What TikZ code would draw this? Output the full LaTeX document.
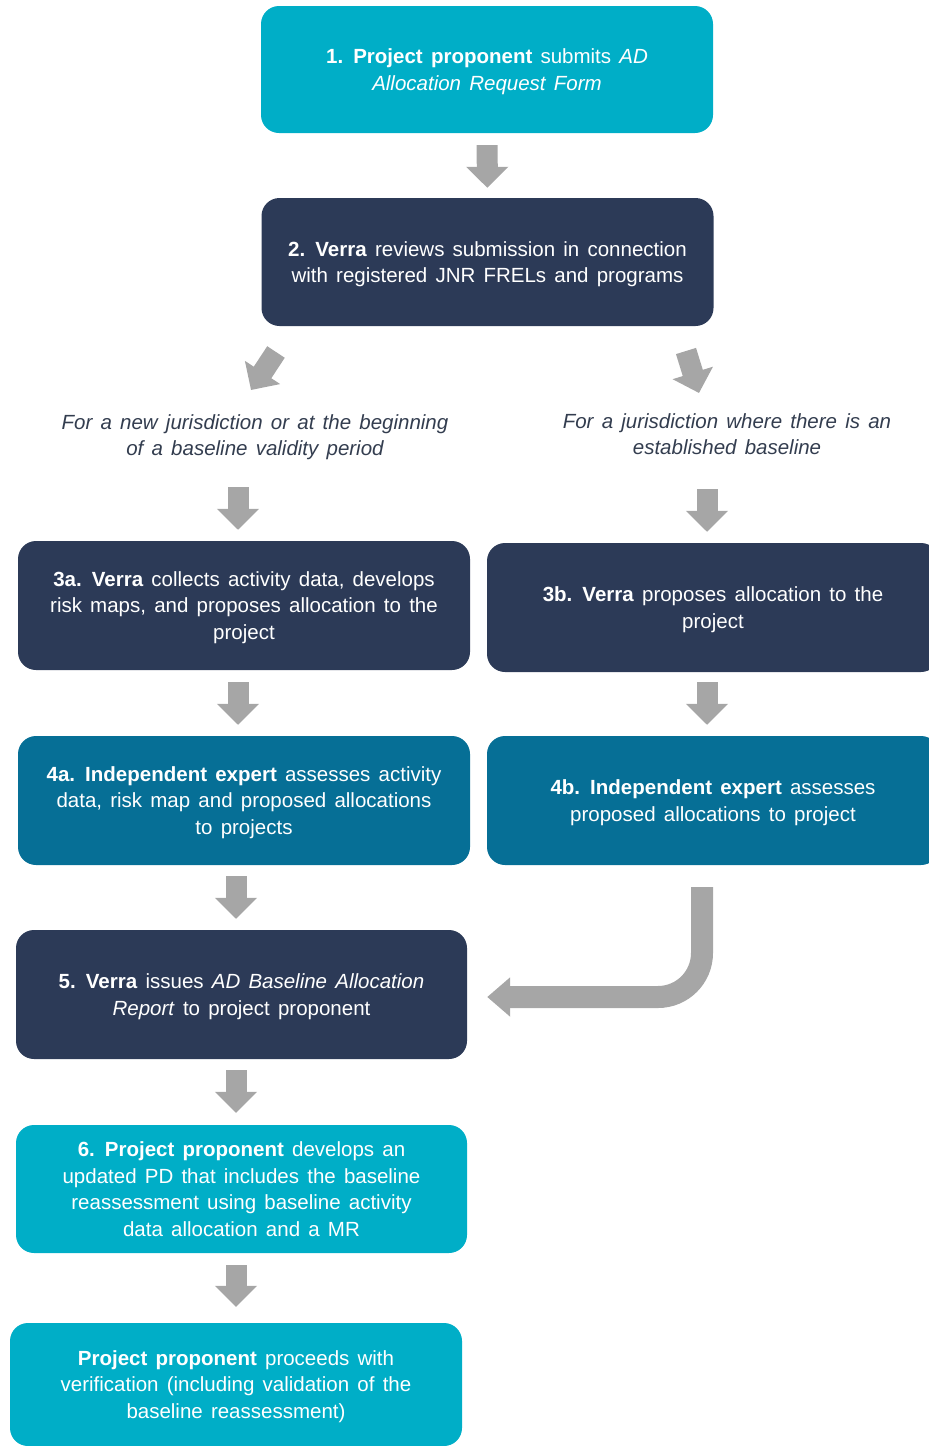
\documentclass[tikz,border=0pt]{standalone}
\usepackage{fontspec}
\setmainfont{Liberation Sans}
\usetikzlibrary{arrows.meta}

\definecolor{vteal}{RGB}{0,174,199}
\definecolor{vnavy}{RGB}{44,58,87}
\definecolor{vblue}{RGB}{6,111,150}
\definecolor{vgrey}{RGB}{166,166,166}
\definecolor{vtext}{RGB}{51,61,79}

\newcommand{\boxfont}{\fontsize{20.5}{26.5}\selectfont\spaceskip=0.4em plus 0.1em\relax}

\tikzset{
  stepbox/.style={rounded corners=18pt, minimum width=452pt, minimum height=128pt,
    align=center, text=white, font=\boxfont, inner sep=0pt, text depth=-8pt},
  tealbox/.style={stepbox, fill=vteal},
  navybox/.style={stepbox, fill=vnavy},
  bluebox/.style={stepbox, fill=vblue},
  note/.style={align=center, text=vtext, font=\boxfont\itshape},
  blockarrow/.style={draw=vgrey, line width=21pt, -{Triangle[width=41pt,length=21pt]}},
  bendarrow/.style={draw=vgrey, line width=22pt, rounded corners=44pt,
    -{Triangle[width=38pt,length=23pt]}}
}

\begin{document}
\begin{tikzpicture}[x=1pt, y=-1pt]
\useasboundingbox (0,0) rectangle (929,1446);

\def\xl{244};
\def\xr{713};

% top of the flow
\node[tealbox, minimum height=127pt] (b1) at (487,69.5)
  {\textbf{1. Project proponent} submits \textit{AD}\\ \textit{Allocation Request Form}};
\node[navybox] (b2) at (487.5,262)
  {\textbf{2. Verra} reviews submission in connection\\ with registered JNR FRELs and programs};

% the two cases
\node[note] (t1) at (255,437) {For a new jurisdiction or at the beginning\\ of a baseline validity period};
\node[note] (t2) at (727,434) {For a jurisdiction where there is an\\ established baseline};

\node[navybox, minimum height=129pt] (b3a) at (\xl,605.5)
  {\textbf{3a. Verra} collects activity data, develops\\ risk maps, and proposes allocation to the\\ project};
\node[navybox, minimum height=129pt] (b3b) at (\xr,607.5)
  {\textbf{3b. Verra} proposes allocation to the\\ project};
\node[bluebox, minimum height=129pt] (b4a) at (\xl,800.5)
  {\textbf{4a. Independent expert} assesses activity\\ data, risk map and proposed allocations\\ to projects};
\node[bluebox, minimum height=129pt] (b4b) at (\xr,800.5)
  {\textbf{4b. Independent expert} assesses\\ proposed allocations to project};

% bottom of the flow
\node[navybox, minimum width=451pt, minimum height=129pt] (b5) at (241.5,994.5)
  {\textbf{5. Verra} issues \textit{AD Baseline Allocation}\\ \textit{Report} to project proponent};
\node[tealbox, minimum width=451pt] (b6) at (241.5,1189)
  {\textbf{6. Project proponent} develops an\\ updated PD that includes the baseline\\ reassessment using baseline activity\\ data allocation and a MR};
\node[tealbox, minimum height=123pt] (b7) at (236,1384.5)
  {\textbf{Project proponent} proceeds with\\ verification (including validation of the\\ baseline reassessment)};

% arrows
\draw[blockarrow, shorten <=12pt, shorten >=10pt] (b1) -- (b2);

\coordinate (d1) at (276,352);
\coordinate (d2) at (251,390);
\coordinate (d3) at (686,351);
\coordinate (d4) at (699,393);
\draw[blockarrow] (d1) -- (d2);
\draw[blockarrow] (d3) -- (d4);

\coordinate (s3a) at (238,487);
\coordinate (s3b) at (707,489);
\draw[blockarrow, shorten >=11pt] (s3a) -- (s3a |- b3a.north);
\draw[blockarrow, shorten >=11pt] (s3b) -- (s3b |- b3b.north);

\draw[blockarrow, shorten <=12pt, shorten >=11pt] ([xshift=-6pt]b3a.south) -- ([xshift=-6pt]b4a.north);
\draw[blockarrow, shorten <=10pt, shorten >=11pt] ([xshift=-6pt]b3b.south) -- ([xshift=-6pt]b4b.north);
\draw[blockarrow, shorten <=11pt, shorten >=11pt] ([xshift=-8pt]b4a.south) -- ([xshift=-8pt]b4a.south |- b5.north);
\draw[blockarrow, shorten <=11pt, shorten >=12pt] ([xshift=-5.5pt]b5.south) -- ([xshift=-5.5pt]b6.north);
\draw[blockarrow, shorten <=12pt, shorten >=16pt] ([xshift=-5.5pt]b6.south) -- ([xshift=-5.5pt]b6.south |- b7.north);

\coordinate (c) at (702,997);
\draw[bendarrow, shorten <=22pt, shorten >=20pt] (b4b.south -| c) -- (c) -- (b5.east |- c);
\end{tikzpicture}
\end{document}
